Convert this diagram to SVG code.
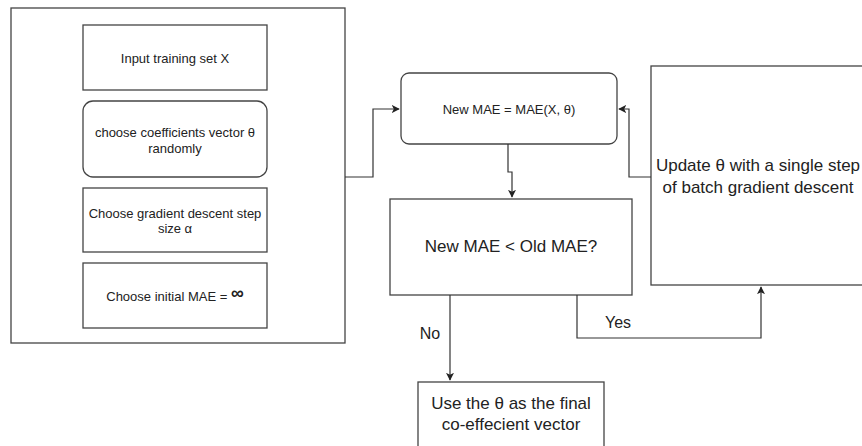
<svg xmlns="http://www.w3.org/2000/svg" width="862" height="446" viewBox="0 0 862 446">
<defs>
<marker id="arr" viewBox="0 0 10 10" refX="9" refY="5" markerWidth="8" markerHeight="8" markerUnits="userSpaceOnUse" orient="auto">
<path d="M0,0 L10,5 L0,10 L2.5,5 Z" fill="#222"/>
</marker>
</defs>
<style>
.box{fill:#fff;stroke:#444;stroke-width:1.3}
.t{font-family:"Liberation Sans",Arial,sans-serif;fill:#222;text-anchor:middle}
.s{font-size:13px}
.l{font-size:17px}
.c{fill:none;stroke:#333;stroke-width:1.2}
</style>
<rect width="862" height="446" fill="#fff"/>
<g id="container">
<rect class="box" x="11" y="8" width="334" height="335"/>
</g>
<g id="input">
<rect class="box" x="83" y="25" width="184" height="65"/>
<text class="t s" x="175" y="62.5">Input training set X</text>
</g>
<g id="coeffs">
<rect class="box" x="83" y="101" width="184" height="76" rx="10"/>
<text class="t s" x="175" y="136.5">choose coefficients vector θ</text>
<text class="t s" x="175" y="152.5">randomly</text>
</g>
<g id="stepsize">
<rect class="box" x="83" y="188" width="184" height="64"/>
<text class="t s" x="175" y="217.5">Choose gradient descent step</text>
<text class="t s" x="175" y="232.5">size α</text>
</g>
<g id="initmae">
<rect class="box" x="83" y="263" width="184" height="65"/>
<text class="t s" x="175" y="300.5">Choose initial MAE = <tspan font-size="18" font-weight="bold" dy="-2">∞</tspan></text>
</g>
<g id="newmae">
<rect class="box" x="401" y="73" width="216" height="71" rx="8"/>
<text class="t s" x="509" y="113.5">New MAE = MAE(X, θ)</text>
</g>
<g id="decision">
<rect class="box" x="390" y="199" width="242" height="96"/>
<text class="t l" x="511" y="252">New MAE &lt; Old MAE?</text>
</g>
<g id="update">
<rect class="box" x="651" y="66" width="216" height="219"/>
<text class="t l" x="758" y="171">Update θ with a single step</text>
<text class="t l" x="758" y="193">of batch gradient descent</text>
</g>
<g id="final">
<rect class="box" x="418" y="382" width="186" height="70"/>
<text class="t l" x="511" y="409">Use the θ as the final</text>
<text class="t l" x="511" y="430">co-effecient vector</text>
</g>
<g id="connectors">
<path class="c" d="M345,177 H373 V109 H399" marker-end="url(#arr)"/>
<path class="c" d="M508,144 V172 H512 V197" marker-end="url(#arr)"/>
<path class="c" d="M651,177 H629 V109 H619" marker-end="url(#arr)"/>
<path class="c" d="M450,295 V380" marker-end="url(#arr)"/>
<path class="c" d="M577,295 V338 H761 V287" marker-end="url(#arr)"/>
<text class="t" font-size="16" x="430" y="339">No</text>
<text class="t" font-size="16" x="618" y="328">Yes</text>
</g>
</svg>
